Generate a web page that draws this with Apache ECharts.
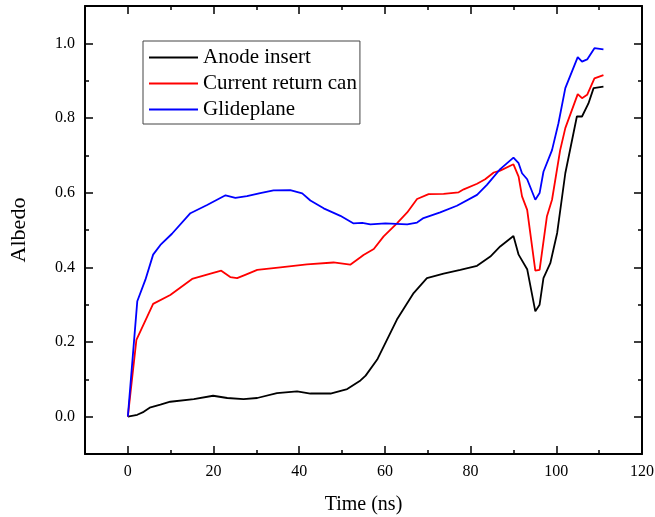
<!DOCTYPE html>
<html>
<head>
<meta charset="utf-8">
<script src="https://cdn.jsdelivr.net/npm/echarts@6/dist/echarts.min.js"></script>
<style>
html,body{margin:0;padding:0;background:#fff;}
#chart{width:655px;height:517px;}
</style>
</head>
<body>
<div id="chart"></div>
<script>
// ---- data ----
var seriesNames = ['Anode insert', 'Current return can', 'Glideplane'];

var anodeTime  = [0, 2.2, 3.7, 5.1, 7.6, 9.9, 15.4, 19.9, 23.2, 27, 30.2, 34.8, 39.5, 42.6, 47.3, 51.2, 54.3, 55.5, 58.2, 62.8, 66.7, 69.8, 73.7, 77.6, 81.5, 84.6, 86.9, 90.0, 91.2, 93.2, 95.1, 96.1, 97.0, 98.6, 100.2, 102.1, 104.8, 106.0, 107.5, 108.7, 111.0];
var anodeVals  = [0, 0.005, 0.013, 0.024, 0.032, 0.040, 0.047, 0.056, 0.050, 0.047, 0.050, 0.063, 0.068, 0.062, 0.062, 0.074, 0.097, 0.110, 0.153, 0.260, 0.331, 0.371, 0.383, 0.393, 0.404, 0.429, 0.456, 0.484, 0.434, 0.395, 0.282, 0.300, 0.371, 0.411, 0.492, 0.652, 0.804, 0.804, 0.839, 0.880, 0.884];

var returnTime = [0, 2.0, 5.9, 9.9, 15, 19.3, 21.8, 23.9, 25.5, 27.4, 30.2, 35.6, 41.8, 48, 51.9, 54.3, 55, 57.4, 59.7, 62.8, 65.2, 67.5, 70.2, 73.7, 77.2, 78.4, 81.5, 83.4, 85.4, 86.9, 90.0, 91.2, 92.0, 93.2, 95.1, 96.1, 97.8, 99.0, 100.9, 102.1, 105.0, 106.0, 107.2, 108.9, 111.0];
var returnVals = [0, 0.206, 0.302, 0.326, 0.369, 0.383, 0.391, 0.374, 0.371, 0.380, 0.393, 0.400, 0.408, 0.413, 0.407, 0.427, 0.433, 0.449, 0.483, 0.518, 0.547, 0.583, 0.596, 0.597, 0.601, 0.609, 0.624, 0.636, 0.654, 0.659, 0.676, 0.643, 0.590, 0.554, 0.391, 0.393, 0.536, 0.581, 0.714, 0.773, 0.864, 0.853, 0.862, 0.906, 0.915];

var glideTime  = [0, 2.2, 4.1, 5.9, 7.6, 10.3, 14.6, 18.5, 22.8, 25.1, 27.8, 30.9, 34, 37.9, 40.7, 42.6, 45.7, 49.6, 52.6, 54.7, 56.6, 60.1, 65.2, 67.5, 69, 72.9, 76.8, 81.5, 83.8, 86.9, 90.0, 91.2, 92.0, 93.2, 95.1, 96.1, 97.0, 99.0, 100.5, 102.1, 105.0, 106.0, 107.2, 108.9, 111.0];
var glideVals  = [0, 0.309, 0.367, 0.434, 0.460, 0.490, 0.545, 0.567, 0.593, 0.586, 0.591, 0.599, 0.606, 0.607, 0.598, 0.579, 0.558, 0.538, 0.518, 0.519, 0.515, 0.518, 0.515, 0.520, 0.532, 0.547, 0.565, 0.594, 0.621, 0.663, 0.694, 0.679, 0.652, 0.636, 0.581, 0.599, 0.656, 0.714, 0.786, 0.880, 0.963, 0.951, 0.957, 0.987, 0.984];

var xTicks      = [0, 20, 40, 60, 80, 100, 120];
var xMinorTicks = [10, 30, 50, 70, 90, 110];
var yTicks      = [0.0, 0.2, 0.4, 0.6, 0.8, 1.0];
var yMinorTicks = [0.1, 0.3, 0.5, 0.7, 0.9];

var xName = 'Time (ns)';
var yName = 'Albedo';

// ---- chart ----
function pairs(xs, ys) { return xs.map(function (x, i) { return [x, ys[i]]; }); }

var FONT = 'Liberation Serif';
var XMIN = -10, XMAX = 120, YMIN = -0.1, YMAX = 1.1;
var lineCol = '#000';

function xAx(pos, major, showLabel, showLine, name) {
  var a = {
    type: 'value', position: pos, min: XMIN, max: XMAX, gridIndex: 0,
    axisLine: { show: showLine, onZero: false, lineStyle: { color: lineCol, width: 2 } },
    axisTick: { show: true, inside: true, length: major ? 8 : 4, lineStyle: { color: lineCol, width: 1.5 },
                customValues: major ? xTicks : xMinorTicks },
    axisLabel: { show: showLabel, customValues: xTicks, color: '#000', fontFamily: FONT, fontSize: 16, margin: 10 },
    splitLine: { show: false }
  };
  if (name) {
    a.name = name; a.nameLocation = 'middle'; a.nameGap = 41;
    a.nameTextStyle = { color: '#000', fontFamily: FONT, fontSize: 20 };
  }
  return a;
}
function yAx(pos, major, showLabel, showLine, name) {
  var a = {
    type: 'value', position: pos, min: YMIN, max: YMAX, gridIndex: 0,
    axisLine: { show: showLine, onZero: false, lineStyle: { color: lineCol, width: 2 } },
    axisTick: { show: true, inside: true, length: major ? 8 : 4, lineStyle: { color: lineCol, width: 1.5 },
                customValues: major ? yTicks : yMinorTicks },
    axisLabel: { show: showLabel, customValues: yTicks, color: '#000', fontFamily: FONT, fontSize: 16, margin: 10,
                 formatter: function (v) { return v.toFixed(1); } },
    splitLine: { show: false }
  };
  if (name) {
    a.name = name; a.nameLocation = 'middle'; a.nameGap = 55; a.nameRotate = 90;
    a.nameTextStyle = { color: '#000', fontFamily: FONT, fontSize: 22 };
  }
  return a;
}

var chart = echarts.init(document.getElementById('chart'), null, { renderer: 'canvas' });
chart.setOption({
  animation: false,
  backgroundColor: '#fff',
  grid: { left: 85, right: 13, top: 6, bottom: 63, containLabel: false, outerBoundsMode: 'none' },
  legend: {
    orient: 'vertical', left: 143, top: 41,
    padding: [6, 3, 4, 6],
    icon: 'rect',
    itemWidth: 49, itemHeight: 2, itemGap: 5,
    borderColor: '#444', borderWidth: 1,
    textStyle: { color: '#000', fontFamily: FONT, fontSize: 21, lineHeight: 21 },
    data: seriesNames
  },
  xAxis: [
    xAx('bottom', true, true, true, xName),
    xAx('bottom', false, false, false),
    xAx('top', true, false, true),
    xAx('top', false, false, false)
  ],
  yAxis: [
    yAx('left', true, true, true, yName),
    yAx('left', false, false, false),
    yAx('right', true, false, true),
    yAx('right', false, false, false)
  ],
  series: [
    { name: seriesNames[0], type: 'line', xAxisIndex: 0, yAxisIndex: 0, symbol: 'none',
      color: '#000000', lineStyle: { width: 1.8, color: '#000000' }, data: pairs(anodeTime, anodeVals) },
    { name: seriesNames[1], type: 'line', xAxisIndex: 0, yAxisIndex: 0, symbol: 'none',
      color: '#ff0000', lineStyle: { width: 1.8, color: '#ff0000' }, data: pairs(returnTime, returnVals) },
    { name: seriesNames[2], type: 'line', xAxisIndex: 0, yAxisIndex: 0, symbol: 'none',
      color: '#0000ff', lineStyle: { width: 1.8, color: '#0000ff' }, data: pairs(glideTime, glideVals) }
  ]
});
</script>
</body>
</html>
